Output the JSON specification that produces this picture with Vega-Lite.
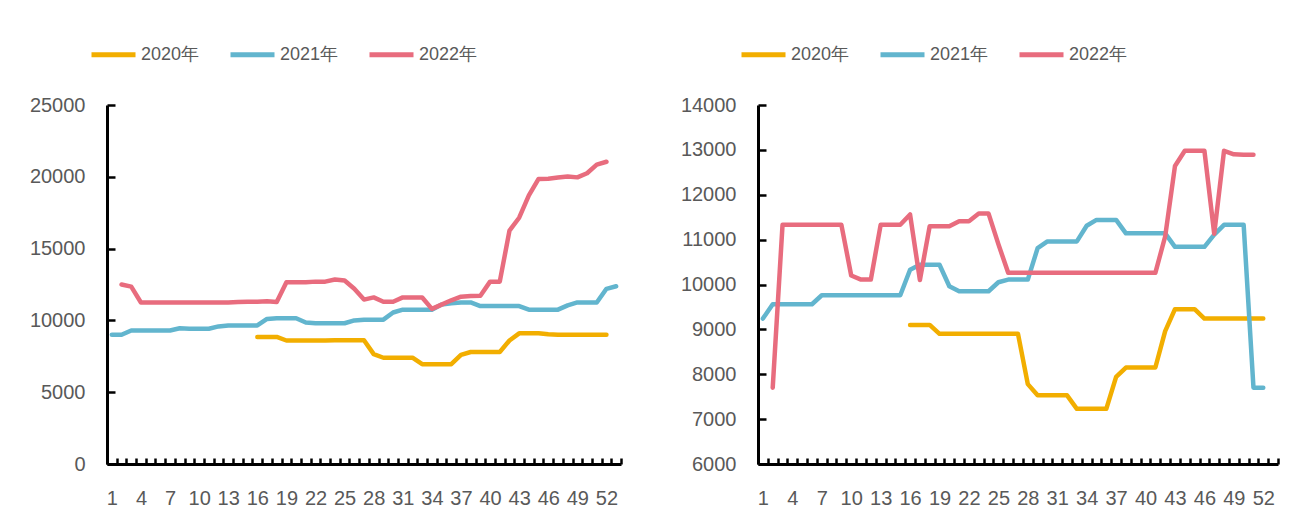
{
  "$schema": "https://vega.github.io/schema/vega-lite/v6.json",
  "background": "white",
  "padding": {"left": 29, "top": 30, "right": 0, "bottom": 0},
  "config": {
    "view": {"stroke": null},
    "concat": {"spacing": 57},
    "font": "Liberation Sans",
    "axis": {
      "title": null,
      "labelFont": "Liberation Sans",
      "labelFontSize": 20,
      "labelColor": "#595959",
      "domainColor": "#000000",
      "domainWidth": 3,
      "tickColor": "#000000",
      "tickWidth": 2.5,
      "grid": false
    },
    "legend": {
      "orient": "none",
      "direction": "horizontal",
      "title": null,
      "symbolType": "stroke",
      "symbolSize": 1936,
      "symbolStrokeWidth": 5,
      "labelFont": "Liberation Sans",
      "labelFontSize": 18,
      "labelColor": "#595959",
      "labelOffset": 3,
      "columnPadding": 20
    }
  },
  "datasets": {
    "left": [
      {"w": 16, "s": "2020年", "v": 8850}, {"w": 17, "s": "2020年", "v": 8850}, {"w": 18, "s": "2020年", "v": 8850}, {"w": 19, "s": "2020年", "v": 8600}, {"w": 20, "s": "2020年", "v": 8600}, {"w": 21, "s": "2020年", "v": 8600}, {"w": 22, "s": "2020年", "v": 8600}, {"w": 23, "s": "2020年", "v": 8600}, {"w": 24, "s": "2020年", "v": 8610}, {"w": 25, "s": "2020年", "v": 8620}, {"w": 26, "s": "2020年", "v": 8620}, {"w": 27, "s": "2020年", "v": 8620}, {"w": 28, "s": "2020年", "v": 7650}, {"w": 29, "s": "2020年", "v": 7400}, {"w": 30, "s": "2020年", "v": 7400}, {"w": 31, "s": "2020年", "v": 7400}, {"w": 32, "s": "2020年", "v": 7400}, {"w": 33, "s": "2020年", "v": 6950}, {"w": 34, "s": "2020年", "v": 6950}, {"w": 35, "s": "2020年", "v": 6950}, {"w": 36, "s": "2020年", "v": 6950}, {"w": 37, "s": "2020年", "v": 7600}, {"w": 38, "s": "2020年", "v": 7800}, {"w": 39, "s": "2020年", "v": 7800}, {"w": 40, "s": "2020年", "v": 7800}, {"w": 41, "s": "2020年", "v": 7800}, {"w": 42, "s": "2020年", "v": 8600}, {"w": 43, "s": "2020年", "v": 9100}, {"w": 44, "s": "2020年", "v": 9100}, {"w": 45, "s": "2020年", "v": 9100}, {"w": 46, "s": "2020年", "v": 9030}, {"w": 47, "s": "2020年", "v": 9000}, {"w": 48, "s": "2020年", "v": 9000}, {"w": 49, "s": "2020年", "v": 9000}, {"w": 50, "s": "2020年", "v": 9000}, {"w": 51, "s": "2020年", "v": 9000}, {"w": 52, "s": "2020年", "v": 9000},
      {"w": 1, "s": "2021年", "v": 9000}, {"w": 2, "s": "2021年", "v": 9000}, {"w": 3, "s": "2021年", "v": 9300}, {"w": 4, "s": "2021年", "v": 9300}, {"w": 5, "s": "2021年", "v": 9300}, {"w": 6, "s": "2021年", "v": 9300}, {"w": 7, "s": "2021年", "v": 9300}, {"w": 8, "s": "2021年", "v": 9450}, {"w": 9, "s": "2021年", "v": 9420}, {"w": 10, "s": "2021年", "v": 9420}, {"w": 11, "s": "2021年", "v": 9420}, {"w": 12, "s": "2021年", "v": 9580}, {"w": 13, "s": "2021年", "v": 9650}, {"w": 14, "s": "2021年", "v": 9650}, {"w": 15, "s": "2021年", "v": 9650}, {"w": 16, "s": "2021年", "v": 9650}, {"w": 17, "s": "2021年", "v": 10100}, {"w": 18, "s": "2021年", "v": 10150}, {"w": 19, "s": "2021年", "v": 10150}, {"w": 20, "s": "2021年", "v": 10150}, {"w": 21, "s": "2021年", "v": 9850}, {"w": 22, "s": "2021年", "v": 9800}, {"w": 23, "s": "2021年", "v": 9800}, {"w": 24, "s": "2021年", "v": 9800}, {"w": 25, "s": "2021年", "v": 9800}, {"w": 26, "s": "2021年", "v": 10000}, {"w": 27, "s": "2021年", "v": 10050}, {"w": 28, "s": "2021年", "v": 10050}, {"w": 29, "s": "2021年", "v": 10050}, {"w": 30, "s": "2021年", "v": 10550}, {"w": 31, "s": "2021年", "v": 10750}, {"w": 32, "s": "2021年", "v": 10750}, {"w": 33, "s": "2021年", "v": 10750}, {"w": 34, "s": "2021年", "v": 10750}, {"w": 35, "s": "2021年", "v": 11100}, {"w": 36, "s": "2021年", "v": 11200}, {"w": 37, "s": "2021年", "v": 11250}, {"w": 38, "s": "2021年", "v": 11250}, {"w": 39, "s": "2021年", "v": 11000}, {"w": 40, "s": "2021年", "v": 11000}, {"w": 41, "s": "2021年", "v": 11000}, {"w": 42, "s": "2021年", "v": 11000}, {"w": 43, "s": "2021年", "v": 11000}, {"w": 44, "s": "2021年", "v": 10750}, {"w": 45, "s": "2021年", "v": 10750}, {"w": 46, "s": "2021年", "v": 10750}, {"w": 47, "s": "2021年", "v": 10750}, {"w": 48, "s": "2021年", "v": 11050}, {"w": 49, "s": "2021年", "v": 11250}, {"w": 50, "s": "2021年", "v": 11250}, {"w": 51, "s": "2021年", "v": 11250}, {"w": 52, "s": "2021年", "v": 12200}, {"w": 53, "s": "2021年", "v": 12380},
      {"w": 2, "s": "2022年", "v": 12500}, {"w": 3, "s": "2022年", "v": 12350}, {"w": 4, "s": "2022年", "v": 11250}, {"w": 5, "s": "2022年", "v": 11250}, {"w": 6, "s": "2022年", "v": 11250}, {"w": 7, "s": "2022年", "v": 11250}, {"w": 8, "s": "2022年", "v": 11250}, {"w": 9, "s": "2022年", "v": 11250}, {"w": 10, "s": "2022年", "v": 11250}, {"w": 11, "s": "2022年", "v": 11250}, {"w": 12, "s": "2022年", "v": 11250}, {"w": 13, "s": "2022年", "v": 11250}, {"w": 14, "s": "2022年", "v": 11280}, {"w": 15, "s": "2022年", "v": 11300}, {"w": 16, "s": "2022年", "v": 11300}, {"w": 17, "s": "2022年", "v": 11330}, {"w": 18, "s": "2022年", "v": 11280}, {"w": 19, "s": "2022年", "v": 12650}, {"w": 20, "s": "2022年", "v": 12650}, {"w": 21, "s": "2022年", "v": 12650}, {"w": 22, "s": "2022年", "v": 12700}, {"w": 23, "s": "2022年", "v": 12700}, {"w": 24, "s": "2022年", "v": 12850}, {"w": 25, "s": "2022年", "v": 12780}, {"w": 26, "s": "2022年", "v": 12200}, {"w": 27, "s": "2022年", "v": 11450}, {"w": 28, "s": "2022年", "v": 11600}, {"w": 29, "s": "2022年", "v": 11300}, {"w": 30, "s": "2022年", "v": 11300}, {"w": 31, "s": "2022年", "v": 11600}, {"w": 32, "s": "2022年", "v": 11600}, {"w": 33, "s": "2022年", "v": 11600}, {"w": 34, "s": "2022年", "v": 10800}, {"w": 35, "s": "2022年", "v": 11100}, {"w": 36, "s": "2022年", "v": 11400}, {"w": 37, "s": "2022年", "v": 11650}, {"w": 38, "s": "2022年", "v": 11700}, {"w": 39, "s": "2022年", "v": 11720}, {"w": 40, "s": "2022年", "v": 12700}, {"w": 41, "s": "2022年", "v": 12700}, {"w": 42, "s": "2022年", "v": 16250}, {"w": 43, "s": "2022年", "v": 17150}, {"w": 44, "s": "2022年", "v": 18700}, {"w": 45, "s": "2022年", "v": 19850}, {"w": 46, "s": "2022年", "v": 19870}, {"w": 47, "s": "2022年", "v": 19950}, {"w": 48, "s": "2022年", "v": 20020}, {"w": 49, "s": "2022年", "v": 19960}, {"w": 50, "s": "2022年", "v": 20250}, {"w": 51, "s": "2022年", "v": 20850}, {"w": 52, "s": "2022年", "v": 21050}
    ],
    "right": [
      {"w": 16, "s": "2020年", "v": 9100}, {"w": 17, "s": "2020年", "v": 9100}, {"w": 18, "s": "2020年", "v": 9100}, {"w": 19, "s": "2020年", "v": 8900}, {"w": 20, "s": "2020年", "v": 8900}, {"w": 21, "s": "2020年", "v": 8900}, {"w": 22, "s": "2020年", "v": 8900}, {"w": 23, "s": "2020年", "v": 8900}, {"w": 24, "s": "2020年", "v": 8900}, {"w": 25, "s": "2020年", "v": 8900}, {"w": 26, "s": "2020年", "v": 8900}, {"w": 27, "s": "2020年", "v": 8900}, {"w": 28, "s": "2020年", "v": 7780}, {"w": 29, "s": "2020年", "v": 7530}, {"w": 30, "s": "2020年", "v": 7530}, {"w": 31, "s": "2020年", "v": 7530}, {"w": 32, "s": "2020年", "v": 7530}, {"w": 33, "s": "2020年", "v": 7230}, {"w": 34, "s": "2020年", "v": 7230}, {"w": 35, "s": "2020年", "v": 7230}, {"w": 36, "s": "2020年", "v": 7230}, {"w": 37, "s": "2020年", "v": 7940}, {"w": 38, "s": "2020年", "v": 8150}, {"w": 39, "s": "2020年", "v": 8150}, {"w": 40, "s": "2020年", "v": 8150}, {"w": 41, "s": "2020年", "v": 8150}, {"w": 42, "s": "2020年", "v": 8960}, {"w": 43, "s": "2020年", "v": 9450}, {"w": 44, "s": "2020年", "v": 9450}, {"w": 45, "s": "2020年", "v": 9450}, {"w": 46, "s": "2020年", "v": 9240}, {"w": 47, "s": "2020年", "v": 9240}, {"w": 48, "s": "2020年", "v": 9240}, {"w": 49, "s": "2020年", "v": 9240}, {"w": 50, "s": "2020年", "v": 9240}, {"w": 51, "s": "2020年", "v": 9240}, {"w": 52, "s": "2020年", "v": 9240},
      {"w": 1, "s": "2021年", "v": 9240}, {"w": 2, "s": "2021年", "v": 9560}, {"w": 3, "s": "2021年", "v": 9560}, {"w": 4, "s": "2021年", "v": 9560}, {"w": 5, "s": "2021年", "v": 9560}, {"w": 6, "s": "2021年", "v": 9560}, {"w": 7, "s": "2021年", "v": 9760}, {"w": 8, "s": "2021年", "v": 9760}, {"w": 9, "s": "2021年", "v": 9760}, {"w": 10, "s": "2021年", "v": 9760}, {"w": 11, "s": "2021年", "v": 9760}, {"w": 12, "s": "2021年", "v": 9760}, {"w": 13, "s": "2021年", "v": 9760}, {"w": 14, "s": "2021年", "v": 9760}, {"w": 15, "s": "2021年", "v": 9760}, {"w": 16, "s": "2021年", "v": 10330}, {"w": 17, "s": "2021年", "v": 10440}, {"w": 18, "s": "2021年", "v": 10440}, {"w": 19, "s": "2021年", "v": 10440}, {"w": 20, "s": "2021年", "v": 9960}, {"w": 21, "s": "2021年", "v": 9850}, {"w": 22, "s": "2021年", "v": 9850}, {"w": 23, "s": "2021年", "v": 9850}, {"w": 24, "s": "2021年", "v": 9850}, {"w": 25, "s": "2021年", "v": 10050}, {"w": 26, "s": "2021年", "v": 10110}, {"w": 27, "s": "2021年", "v": 10110}, {"w": 28, "s": "2021年", "v": 10110}, {"w": 29, "s": "2021年", "v": 10810}, {"w": 30, "s": "2021年", "v": 10960}, {"w": 31, "s": "2021年", "v": 10960}, {"w": 32, "s": "2021年", "v": 10960}, {"w": 33, "s": "2021年", "v": 10960}, {"w": 34, "s": "2021年", "v": 11310}, {"w": 35, "s": "2021年", "v": 11440}, {"w": 36, "s": "2021年", "v": 11440}, {"w": 37, "s": "2021年", "v": 11440}, {"w": 38, "s": "2021年", "v": 11140}, {"w": 39, "s": "2021年", "v": 11140}, {"w": 40, "s": "2021年", "v": 11140}, {"w": 41, "s": "2021年", "v": 11140}, {"w": 42, "s": "2021年", "v": 11140}, {"w": 43, "s": "2021年", "v": 10840}, {"w": 44, "s": "2021年", "v": 10840}, {"w": 45, "s": "2021年", "v": 10840}, {"w": 46, "s": "2021年", "v": 10840}, {"w": 47, "s": "2021年", "v": 11110}, {"w": 48, "s": "2021年", "v": 11330}, {"w": 49, "s": "2021年", "v": 11330}, {"w": 50, "s": "2021年", "v": 11330}, {"w": 51, "s": "2021年", "v": 7700}, {"w": 52, "s": "2021年", "v": 7700},
      {"w": 2, "s": "2022年", "v": 7700}, {"w": 3, "s": "2022年", "v": 11330}, {"w": 4, "s": "2022年", "v": 11330}, {"w": 5, "s": "2022年", "v": 11330}, {"w": 6, "s": "2022年", "v": 11330}, {"w": 7, "s": "2022年", "v": 11330}, {"w": 8, "s": "2022年", "v": 11330}, {"w": 9, "s": "2022年", "v": 11330}, {"w": 10, "s": "2022年", "v": 10200}, {"w": 11, "s": "2022年", "v": 10110}, {"w": 12, "s": "2022年", "v": 10110}, {"w": 13, "s": "2022年", "v": 11330}, {"w": 14, "s": "2022年", "v": 11330}, {"w": 15, "s": "2022年", "v": 11330}, {"w": 16, "s": "2022年", "v": 11560}, {"w": 17, "s": "2022年", "v": 10100}, {"w": 18, "s": "2022年", "v": 11300}, {"w": 19, "s": "2022年", "v": 11300}, {"w": 20, "s": "2022年", "v": 11300}, {"w": 21, "s": "2022年", "v": 11410}, {"w": 22, "s": "2022年", "v": 11410}, {"w": 23, "s": "2022年", "v": 11580}, {"w": 24, "s": "2022年", "v": 11580}, {"w": 25, "s": "2022年", "v": 10900}, {"w": 26, "s": "2022年", "v": 10260}, {"w": 27, "s": "2022年", "v": 10260}, {"w": 28, "s": "2022年", "v": 10260}, {"w": 29, "s": "2022年", "v": 10260}, {"w": 30, "s": "2022年", "v": 10260}, {"w": 31, "s": "2022年", "v": 10260}, {"w": 32, "s": "2022年", "v": 10260}, {"w": 33, "s": "2022年", "v": 10260}, {"w": 34, "s": "2022年", "v": 10260}, {"w": 35, "s": "2022年", "v": 10260}, {"w": 36, "s": "2022年", "v": 10260}, {"w": 37, "s": "2022年", "v": 10260}, {"w": 38, "s": "2022年", "v": 10260}, {"w": 39, "s": "2022年", "v": 10260}, {"w": 40, "s": "2022年", "v": 10260}, {"w": 41, "s": "2022年", "v": 10260}, {"w": 42, "s": "2022年", "v": 11070}, {"w": 43, "s": "2022年", "v": 12640}, {"w": 44, "s": "2022年", "v": 12980}, {"w": 45, "s": "2022年", "v": 12980}, {"w": 46, "s": "2022年", "v": 12980}, {"w": 47, "s": "2022年", "v": 11130}, {"w": 48, "s": "2022年", "v": 12980}, {"w": 49, "s": "2022年", "v": 12900}, {"w": 50, "s": "2022年", "v": 12890}, {"w": 51, "s": "2022年", "v": 12890}
    ]
  },
  "hconcat": [
    {
      "width": 514,
      "height": 359,
      "data": {"name": "left"},
      "mark": {"type": "line", "strokeWidth": 4.5, "strokeCap": "round", "strokeJoin": "round"},
      "encoding": {
        "x": {
          "field": "w", "type": "ordinal", "bandPosition": 0.5,
          "scale": {"type": "band", "paddingInner": 0, "paddingOuter": 0, "domain": [1,2,3,4,5,6,7,8,9,10,11,12,13,14,15,16,17,18,19,20,21,22,23,24,25,26,27,28,29,30,31,32,33,34,35,36,37,38,39,40,41,42,43,44,45,46,47,48,49,50,51,52,53]},
          "axis": {"labelAngle": 0, "tickBand": "extent", "tickSize": -6, "labelPadding": 30, "labelExpr": "(datum.value - 1) % 3 == 0 ? datum.label : ''"}
        },
        "y": {
          "field": "v", "type": "quantitative",
          "scale": {"domain": [0, 25000]},
          "axis": {"values": [0, 5000, 10000, 15000, 20000, 25000], "format": "d", "tickSize": -8, "labelPadding": 30}
        },
        "color": {
          "field": "s", "type": "nominal",
          "scale": {"domain": ["2020年", "2021年", "2022年"], "range": ["#F2AE00", "#62B5CE", "#E86C7E"]},
          "legend": {"legendX": -18, "legendY": -75}
        }
      }
    },
    {
      "width": 520,
      "height": 359,
      "data": {"name": "right"},
      "mark": {"type": "line", "strokeWidth": 4.5, "strokeCap": "round", "strokeJoin": "round"},
      "encoding": {
        "x": {
          "field": "w", "type": "ordinal", "bandPosition": 0.5,
          "scale": {"type": "band", "paddingInner": 0, "paddingOuter": 0, "domain": [1,2,3,4,5,6,7,8,9,10,11,12,13,14,15,16,17,18,19,20,21,22,23,24,25,26,27,28,29,30,31,32,33,34,35,36,37,38,39,40,41,42,43,44,45,46,47,48,49,50,51,52,53]},
          "axis": {"labelAngle": 0, "tickBand": "extent", "tickSize": -6, "labelPadding": 30, "labelExpr": "(datum.value - 1) % 3 == 0 ? datum.label : ''"}
        },
        "y": {
          "field": "v", "type": "quantitative",
          "scale": {"domain": [6000, 14000]},
          "axis": {"values": [6000, 7000, 8000, 9000, 10000, 11000, 12000, 13000, 14000], "format": "d", "tickSize": -8, "labelPadding": 30}
        },
        "color": {
          "field": "s", "type": "nominal",
          "scale": {"domain": ["2020年", "2021年", "2022年"], "range": ["#F2AE00", "#62B5CE", "#E86C7E"]},
          "legend": {"legendX": -19, "legendY": -75}
        }
      }
    }
  ],
  "resolve": {
    "scale": {"color": "independent", "x": "independent", "y": "independent"},
    "legend": {"color": "independent"}
  }
}
